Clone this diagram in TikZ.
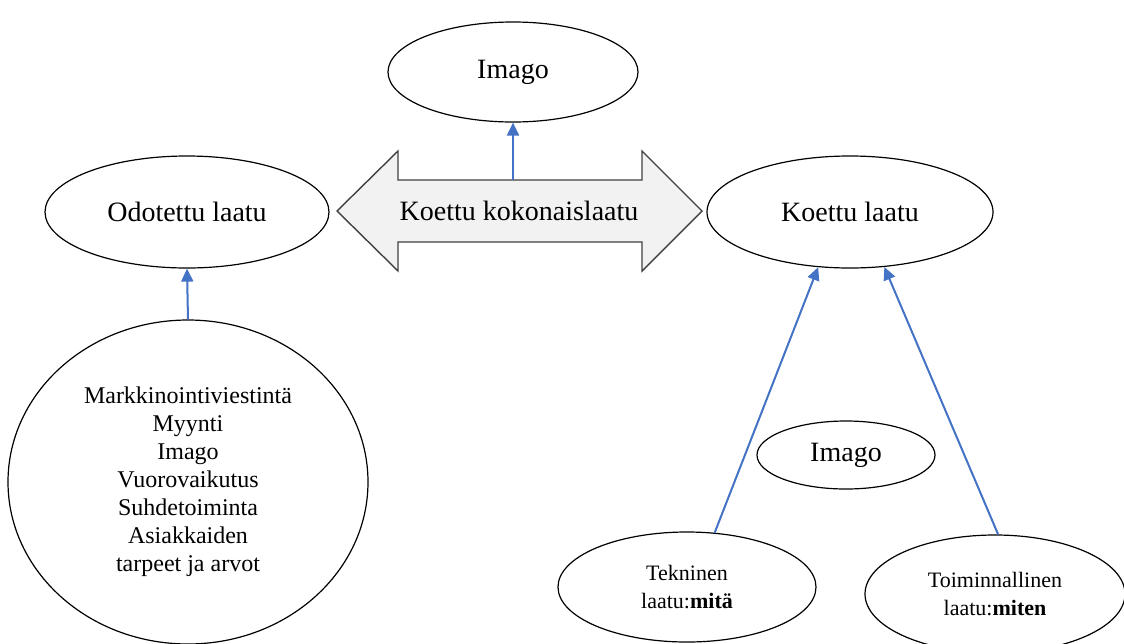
\documentclass[tikz,border=0pt]{standalone}
\usepackage{fontspec}
\setmainfont{Liberation Serif}
\usepackage{tikz}
\usetikzlibrary{shapes.geometric}
\usetikzlibrary{arrows.meta}
\definecolor{linkblue}{RGB}{68,114,196}
\definecolor{arrowfill}{RGB}{242,242,242}
\definecolor{arrowedge}{RGB}{64,64,64}
\newcommand{\ovalnode}[7][]{\node[oval, minimum width=#5pt, minimum height=#6pt, #1] (#2) at ( #3 , #4 ) {#7};}
\tikzset{
  oval/.style={ellipse, draw, line width=0.6pt, inner sep=0pt, align=center, font=\fontsize{14}{17}\selectfont},
  smalltext/.style={font=\fontsize{11}{14}\selectfont},
  link/.style={draw=linkblue, line width=1pt, -{Triangle[length=6.5pt,width=6pt]}},
}

\begin{document}
\begin{tikzpicture}[x=0.5pt,y=-0.5pt]
        \useasboundingbox (0,0) rectangle (1124,643);

        % double arrow
        \draw[fill=arrowfill, draw=arrowedge, line width=0.7pt]
          (337,211) -- (398,151) -- (398,180) -- (642,180) -- (642,151) -- (702,211)
          -- (642,271) -- (642,242) -- (398,242) -- (398,271) -- cycle;
        \node[font=\fontsize{14}{17}\selectfont] (kokonais) at (519,211) {Koettu kokonaislaatu};
        \coordinate (ylos) at (513,180);

        % top row
        \ovalnode{imago}{513}{72}{125}{50}{Imago}
        \ovalnode{odotettu}{187}{212}{142}{56}{Odotettu laatu}
        \ovalnode{koettu}{850}{212}{143}{56}{Koettu laatu}

        % left
        \ovalnode[font=\fontsize{12}{14}\selectfont]{tekijat}{188}{482}{180}{162}{Markkinointiviestintä\\Myynti\\Imago\\Vuorovaikutus\\Suhdetoiminta\\Asiakkaiden\\tarpeet ja arvot}

        % right
        \ovalnode{imago2}{846}{455}{89}{34}{Imago}
        \ovalnode[smalltext]{tekninen}{687}{587}{129}{55}{Tekninen\\laatu:\textbf{mitä}}
        \ovalnode[smalltext]{toiminnallinen}{995}{594}{130}{59}{Toiminnallinen\\laatu:\textbf{miten}}

        % arrows
        \draw[link] (ylos) -- (imago.south);
        \draw[link] (tekijat.north) -- (odotettu.south);
        \draw[link] (tekninen.63) -- (koettu.-120);
        \draw[link] (toiminnallinen.87) -- (koettu.-58);
\end{tikzpicture}
\end{document}
